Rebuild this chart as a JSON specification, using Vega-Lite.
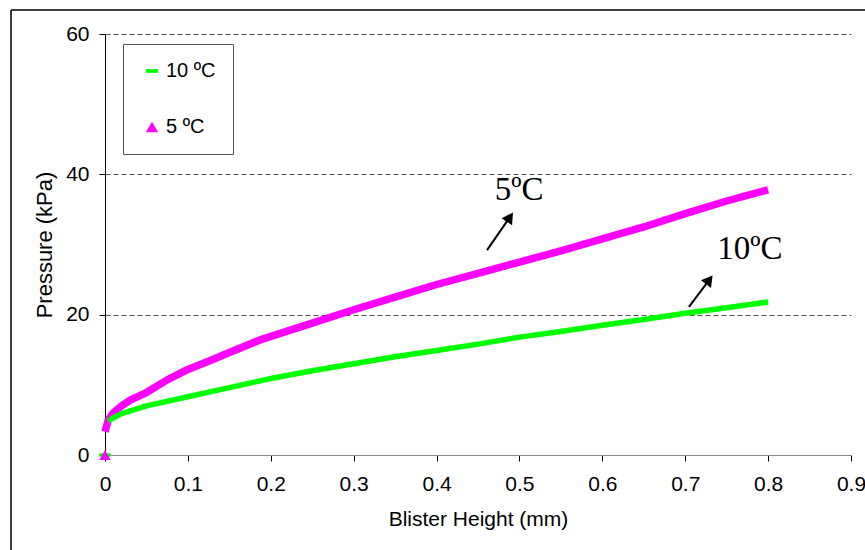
{
  "$schema": "https://vega.github.io/schema/vega-lite/v6.json",
  "width": 746,
  "height": 421,
  "autosize": "none",
  "padding": {"left": 105, "top": 34, "right": 14, "bottom": 95},
  "background": "white",
  "config": {
    "view": {"stroke": null},
    "font": "Liberation Sans",
    "axis": {"labelFont": "Liberation Sans", "titleFont": "Liberation Sans", "labelColor": "black", "titleColor": "black", "titleFontWeight": "normal", "labelFontSize": 21, "titleFontSize": 21, "tickColor": "black", "tickSize": 6, "domainColor": "black"}
  },
  "datasets": {
    "curves": [
      {"series": "5 ºC", "x": 0, "p": 3.3},
      {"series": "5 ºC", "x": 0.004, "p": 5.0},
      {"series": "5 ºC", "x": 0.01, "p": 6.0},
      {"series": "5 ºC", "x": 0.02, "p": 7.0},
      {"series": "5 ºC", "x": 0.03, "p": 7.8},
      {"series": "5 ºC", "x": 0.05, "p": 8.9},
      {"series": "5 ºC", "x": 0.075, "p": 10.7},
      {"series": "5 ºC", "x": 0.1, "p": 12.2},
      {"series": "5 ºC", "x": 0.13, "p": 13.6},
      {"series": "5 ºC", "x": 0.15, "p": 14.6},
      {"series": "5 ºC", "x": 0.187, "p": 16.4},
      {"series": "5 ºC", "x": 0.25, "p": 18.8},
      {"series": "5 ºC", "x": 0.3, "p": 20.7},
      {"series": "5 ºC", "x": 0.35, "p": 22.5},
      {"series": "5 ºC", "x": 0.4, "p": 24.3},
      {"series": "5 ºC", "x": 0.45, "p": 25.9},
      {"series": "5 ºC", "x": 0.5, "p": 27.5},
      {"series": "5 ºC", "x": 0.55, "p": 29.1},
      {"series": "5 ºC", "x": 0.6, "p": 30.8},
      {"series": "5 ºC", "x": 0.65, "p": 32.5},
      {"series": "5 ºC", "x": 0.7, "p": 34.4},
      {"series": "5 ºC", "x": 0.75, "p": 36.2},
      {"series": "5 ºC", "x": 0.8, "p": 37.8},
      {"series": "10 ºC", "x": 0.004, "p": 4.8},
      {"series": "10 ºC", "x": 0.01, "p": 5.3},
      {"series": "10 ºC", "x": 0.02, "p": 5.9},
      {"series": "10 ºC", "x": 0.05, "p": 7.0},
      {"series": "10 ºC", "x": 0.1, "p": 8.3},
      {"series": "10 ºC", "x": 0.15, "p": 9.6},
      {"series": "10 ºC", "x": 0.2, "p": 10.9},
      {"series": "10 ºC", "x": 0.25, "p": 12.0},
      {"series": "10 ºC", "x": 0.3, "p": 13.0},
      {"series": "10 ºC", "x": 0.35, "p": 14.0},
      {"series": "10 ºC", "x": 0.4, "p": 14.9},
      {"series": "10 ºC", "x": 0.45, "p": 15.8},
      {"series": "10 ºC", "x": 0.5, "p": 16.8},
      {"series": "10 ºC", "x": 0.55, "p": 17.6},
      {"series": "10 ºC", "x": 0.6, "p": 18.5},
      {"series": "10 ºC", "x": 0.65, "p": 19.3},
      {"series": "10 ºC", "x": 0.7, "p": 20.2},
      {"series": "10 ºC", "x": 0.75, "p": 21.0},
      {"series": "10 ºC", "x": 0.8, "p": 21.8}
    ],
    "origin": [
      {"s": "10 ºC", "x": 0, "p": 0},
      {"s": "5 ºC", "x": 0, "p": 0}
    ],
    "notes": [
      {"label": "5ºC", "tx": 0.4995, "ty": 36.3, "x1": 0.4609, "y1": 29.2, "x2": 0.4885, "y2": 33.9, "hx": 0.4885, "hy": 33.9, "angle": 34},
      {"label": "10ºC", "tx": 0.778, "ty": 27.9, "x1": 0.7045, "y1": 21.1, "x2": 0.729, "y2": 24.97, "hx": 0.729, "hy": 24.97, "angle": 37}
    ],
    "frame": [
      {"x1": -0.1134, "x2": 0.95, "y1": 63.42, "y2": 63.42},
      {"x1": -0.1134, "x2": -0.1134, "y1": 63.42, "y2": -15}
    ]
  },
  "layer": [
    {
      "data": {"name": "curves"},
      "mark": {"type": "line", "strokeJoin": "round", "strokeCap": "butt"},
      "encoding": {
        "x": {"field": "x", "type": "quantitative", "scale": {"domain": [0, 0.9], "nice": false},
          "axis": {"values": [0, 0.1, 0.2, 0.3, 0.4, 0.5, 0.6, 0.7, 0.8, 0.9], "format": "~g", "title": "Blister Height (mm)", "grid": false, "labelPadding": 12, "titlePadding": 14, "domain": true, "domainColor": "#888888", "labelFlush": false}},
        "y": {"field": "p", "type": "quantitative", "scale": {"domain": [0, 60], "nice": false},
          "axis": {"values": [0, 20, 40, 60], "title": "Pressure (kPa)", "titleFontSize": 22, "grid": true, "gridColor": "#555555", "gridDash": [5, 3], "gridWidth": 1, "labelPadding": 10, "titlePadding": 9, "domain": true, "domainColor": "black", "domainWidth": 1}},
        "stroke": {"field": "series", "type": "nominal", "scale": {"domain": ["5 ºC", "10 ºC"], "range": ["#ff00ff", "#00ff00"]}, "legend": null},
        "strokeWidth": {"field": "series", "type": "nominal", "scale": {"domain": ["5 ºC", "10 ºC"], "range": [7.5, 5.5]}, "legend": null}
      }
    },
    {
      "data": {"name": "frame"},
      "mark": {"type": "rule", "stroke": "black", "strokeWidth": 1.5, "clip": false},
      "encoding": {
        "x": {"field": "x1", "type": "quantitative"},
        "x2": {"field": "x2"},
        "y": {"field": "y1", "type": "quantitative"},
        "y2": {"field": "y2"}
      }
    },
    {
      "mark": {"type": "rule", "stroke": "black", "strokeWidth": 1},
      "encoding": {"x": {"datum": 0.9, "type": "quantitative"}}
    },
    {
      "data": {"name": "origin"},
      "mark": {"type": "point", "filled": true, "opacity": 1, "size": 130},
      "encoding": {
        "x": {"field": "x", "type": "quantitative"},
        "y": {"field": "p", "type": "quantitative"},
        "color": {"field": "s", "type": "nominal", "scale": {"domain": ["10 ºC", "5 ºC"], "range": ["#00ff00", "#ff00ff"]},
          "legend": {"title": null, "orient": "none", "legendX": 18, "legendY": 10, "strokeColor": "#555555", "fillColor": "white", "padding": 17, "rowPadding": 36, "symbolOffset": 2, "labelOffset": 4, "labelFontSize": 20, "labelColor": "black", "labelFont": "Liberation Sans", "symbolSize": 150, "labelExpr": "datum.label + '\u00a0\u00a0\u00a0'"}},
        "shape": {"field": "s", "type": "nominal", "scale": {"domain": ["10 ºC", "5 ºC"], "range": ["M-1,-0.3H1V0.3H-1Z", "triangle-up"]}}
      }
    },
    {
      "data": {"name": "notes"},
      "mark": {"type": "rule", "stroke": "black", "strokeWidth": 2},
      "encoding": {
        "x": {"field": "x1", "type": "quantitative"},
        "y": {"field": "y1", "type": "quantitative"},
        "x2": {"field": "x2"},
        "y2": {"field": "y2"}
      }
    },
    {
      "data": {"name": "notes"},
      "mark": {"type": "point", "shape": "triangle-up", "filled": true, "color": "black", "opacity": 1, "size": 160},
      "encoding": {
        "x": {"field": "hx", "type": "quantitative"},
        "y": {"field": "hy", "type": "quantitative"},
        "angle": {"field": "angle", "type": "quantitative", "scale": null}
      }
    },
    {
      "data": {"name": "notes"},
      "mark": {"type": "text", "font": "Liberation Serif", "fontSize": 33, "align": "center", "baseline": "alphabetic", "color": "black"},
      "encoding": {
        "x": {"field": "tx", "type": "quantitative"},
        "y": {"field": "ty", "type": "quantitative"},
        "text": {"field": "label"}
      }
    }
  ]
}
